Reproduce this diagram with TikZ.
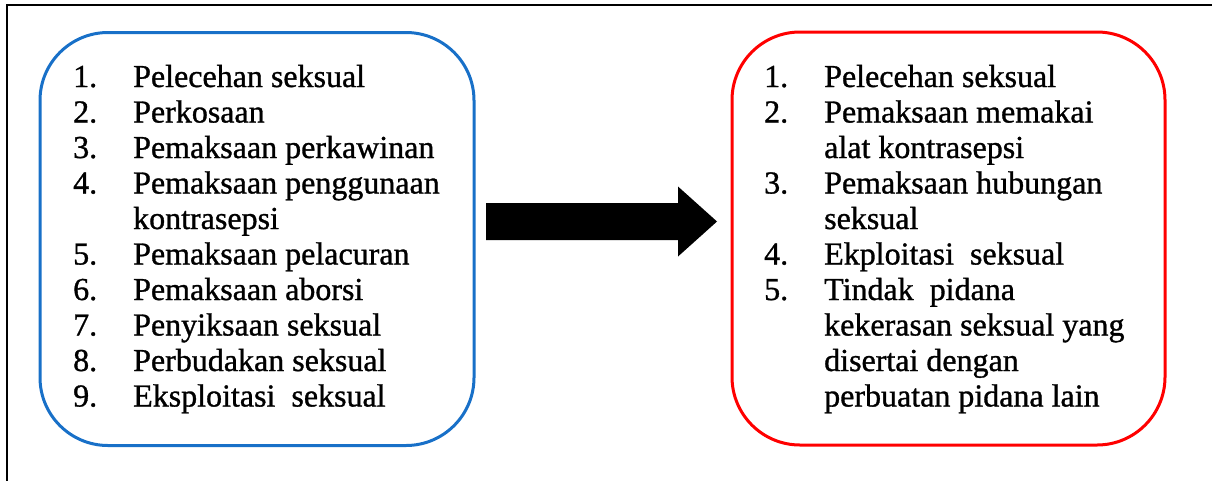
\documentclass[tikz,border=0pt]{standalone}
\usepackage{fontspec}
\newfontfamily\listfont{Liberation Serif}[Ligatures=TeX, FakeBold=1]
\usetikzlibrary{calc}
\definecolor{boxblue}{RGB}{24,112,200}
\definecolor{boxred}{RGB}{255,0,0}
\tikzset{
  listbox/.style={draw, line width=3pt, rounded corners=68pt, inner sep=0pt,
    minimum width=434pt, minimum height=413pt},
  listtext/.style={anchor=base west, inner sep=0pt,
    font=\listfont\fontsize{32}{35.5}\selectfont},
  frameline/.style={draw=black, line width=2pt},
  blockarrow/.style={fill=black}
}
\newcommand{\itemrow}[2]{\makebox[60pt][l]{#1}#2}
\newcommand{\controw}[1]{\hspace*{60pt}#1}
\begin{document}
\begin{tikzpicture}[x=1pt, y=-1pt]
  \useasboundingbox (0,0) rectangle (1212,480);

  % outer frame (only its top and left edges fall inside the page)
  \draw[frameline] (7,490) -- (7,5) -- (1220,5);

  % the two rounded boxes
  \node[listbox, draw=boxblue] (left) at (257,239) {};
  \node[listbox, draw=boxred, minimum width=433pt] (right) at (948.5,238.5) {};

  % left list
  \node[listtext] (leftlist) at (73,87) {%
    \begin{tabular}[t]{@{}l@{}}
      \itemrow{1.}{Pelecehan seksual}\\
      \itemrow{2.}{Perkosaan}\\
      \itemrow{3.}{Pemaksaan perkawinan}\\
      \itemrow{4.}{Pemaksaan penggunaan}\\
      \controw{kontrasepsi}\\
      \itemrow{5.}{Pemaksaan pelacuran}\\
      \itemrow{6.}{Pemaksaan aborsi}\\
      \itemrow{7.}{Penyiksaan seksual}\\
      \itemrow{8.}{Perbudakan seksual}\\
      \itemrow{9.}{Eksploitasi\ \ seksual}
    \end{tabular}};

  % right list
  \node[listtext] (rightlist) at (764,87) {%
    \begin{tabular}[t]{@{}l@{}}
      \itemrow{1.}{Pelecehan seksual}\\
      \itemrow{2.}{Pemaksaan memakai}\\
      \controw{alat kontrasepsi}\\
      \itemrow{3.}{Pemaksaan hubungan}\\
      \controw{seksual}\\
      \itemrow{4.}{Ekploitasi\ \ seksual}\\
      \itemrow{5.}{Tindak\ \ pidana}\\
      \controw{kekerasan seksual yang}\\
      \controw{disertai dengan}\\
      \controw{perbuatan pidana lain}
    \end{tabular}};

  % block arrow between the boxes
  \coordinate (tail) at (486,221.5);
  \coordinate (tip) at (717,221.5);
  \fill[blockarrow] ($(tail)+(0,-18.5)$) -- ($(tip)+(-39,-18.5)$) -- ($(tip)+(-39,-35)$)
    -- (tip) -- ($(tip)+(-39,35)$) -- ($(tip)+(-39,18.5)$) -- ($(tail)+(0,18.5)$) -- cycle;
\end{tikzpicture}
\end{document}
